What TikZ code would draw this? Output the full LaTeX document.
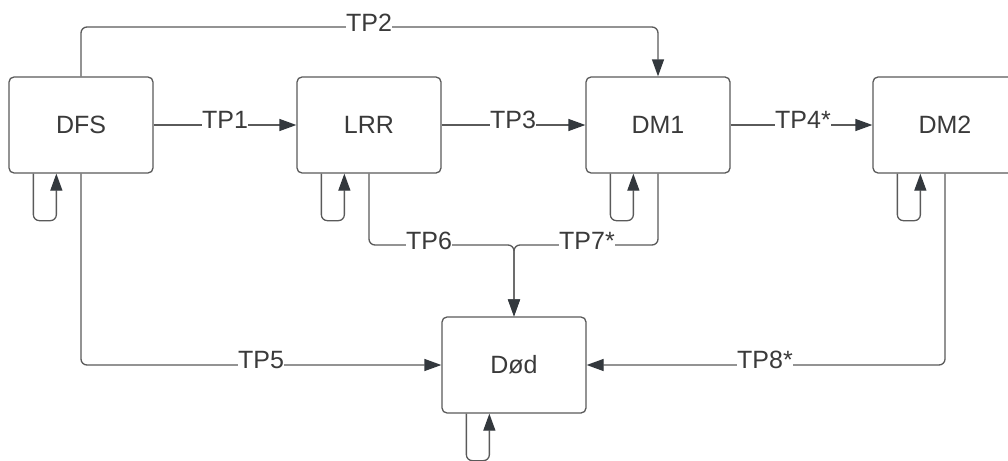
\documentclass[tikz,border=0pt]{standalone}
\usepackage{fontspec}
\setmainfont{Liberation Sans}
\usetikzlibrary{arrows.meta}
\definecolor{linec}{HTML}{5A5A5A}
\definecolor{headc}{HTML}{33383D}
\definecolor{txtc}{HTML}{3A3A3A}
\begin{document}
\begin{tikzpicture}[x=1pt,y=-1pt,
  state/.style={draw=linec,line width=1.3pt,fill=white,rounded corners=5pt,
    minimum width=144pt,minimum height=96pt,inner sep=0pt,text=txtc,
    font=\fontsize{25}{30}\selectfont},
  conn/.style={draw=linec,line width=1.3pt,rounded corners=6pt,
    -{Triangle[length=17pt,width=12pt,fill=headc,color=headc]}},
  lab/.style={fill=white,inner sep=0pt,anchor=base,text=txtc,
    font=\fontsize{25}{30}\selectfont}]
\useasboundingbox (0,0) rectangle (1008,460);
\fill[white] (0,0) rectangle (1008,460);
\begin{scope}
\clip (0,0) rectangle (1008,460);
% nodes
\node[state] (DFS) at (81,125) {DFS};
\node[state] (LRR) at (369,125) {LRR};
\node[state] (DM1) at (658,125) {DM1};
\node[state] (DM2) at (945,125) {DM2};
\node[state] (Dod) at (514,365) {Død};
\coordinate (tp2) at (0,27);
\coordinate (tp67) at (0,245);
% connectors
\draw[conn] (DFS.north) |- (tp2 -| DM1.north) -- (DM1.north);
\draw[conn] (DFS.east) -- (LRR.west);
\draw[conn] (LRR.east) -- (DM1.west);
\draw[conn] (DM1.east) -- (DM2.west);
\draw[conn] (DFS.south) |- (Dod.west);
\draw[conn] (DM2.south) |- (Dod.east);
\draw[conn] (LRR.south) |- (tp67 -| Dod.north) -- (Dod.north);
\draw[conn] (DM1.south) |- (tp67 -| Dod.north) -- (Dod.north);
% self loops
\foreach \n in {DFS,LRR,DM1,DM2,Dod}{
  \draw[conn] ([xshift=25pt]\n.south west) -- ++(0,47) -| ([xshift=48pt]\n.south west);
}
% labels
\node[lab] (l1) at (225,128) {TP1};
\node[lab] (l2) at (369,32) {TP2};
\node[lab] (l3) at (513,128) {TP3};
\node[lab] (l4) at (803,128) {TP4*};
\node[lab] (l5) at (261,368) {TP5};
\node[lab] (l6) at (429,249) {TP6};
\node[lab] (l7) at (587,249) {TP7*};
\node[lab] (l8) at (765,368) {TP8*};
\end{scope}
\end{tikzpicture}
\end{document}
